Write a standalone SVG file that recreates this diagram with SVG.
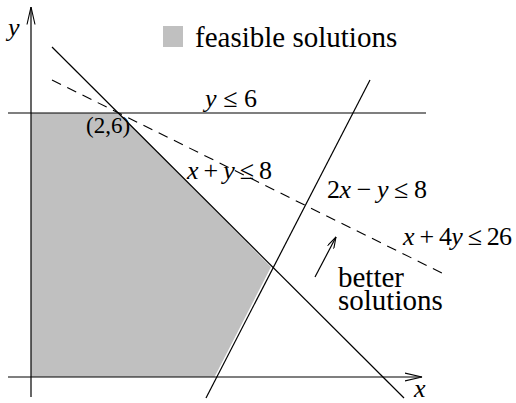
<svg xmlns="http://www.w3.org/2000/svg" width="516" height="403" viewBox="0 0 516 403">
<defs>
<style>
.ln{fill:none;stroke:#000;stroke-width:1.2}
.dash{fill:none;stroke:#000;stroke-width:1.1;stroke-dasharray:10,7}
.it{font-style:italic}
.feas{fill:#c0c0c0}
</style>
<marker id="axhead" viewBox="0 0 18 10" refX="17.5" refY="5" markerWidth="18" markerHeight="10" markerUnits="userSpaceOnUse" orient="auto">
<path d="M0,1 L17.5,5 L0,9" fill="none" stroke="#000" stroke-width="1.1"/>
</marker>
<marker id="smhead" viewBox="0 0 12 8" refX="11.5" refY="4" markerWidth="12" markerHeight="8" markerUnits="userSpaceOnUse" orient="auto">
<path d="M0,0.5 L11.5,4 L0,7.5" fill="none" stroke="#000" stroke-width="1.1"/>
</marker>
</defs>
<rect width="516" height="403" fill="#fff"/>
<g id="feasible-region">
<polygon class="feas" points="31,113 119,113 271,267 214.5,377 31,377"/>
</g>
<g id="connectors">
<line id="x-axis" class="ln" x1="8" y1="377" x2="422" y2="377" marker-end="url(#axhead)"/>
<line id="y-axis" class="ln" x1="31" y1="397" x2="31" y2="7" marker-end="url(#axhead)"/>
<line id="c-y6" class="ln" x1="8" y1="113" x2="426" y2="113"/>
<line id="c-xy8" class="ln" x1="52" y1="47" x2="404" y2="398"/>
<line id="c-2xy8" class="ln" x1="370" y1="80" x2="206" y2="398"/>
<line id="c-obj" class="dash" x1="52" y1="80" x2="448" y2="276"/>
<line id="better-arrow" class="ln" x1="315" y1="277" x2="336" y2="237" marker-end="url(#smhead)"/>
</g>
<g id="legend">
<rect x="163" y="26" width="20" height="21" class="feas"/>
<text font-family="Liberation Serif" x="195" y="47" font-size="29">feasible solutions</text>
</g>
<g id="labels">
<text font-family="Liberation Serif" font-style="italic" x="8" y="36" font-size="26">y</text>
<text font-family="Liberation Serif" font-style="italic" x="414" y="397" font-size="26">x</text>
<text font-family="Liberation Serif" x="205" y="107" font-size="26" textLength="52" lengthAdjust="spacing"><tspan font-style="italic">y</tspan> ≤ 6</text>
<text font-family="Liberation Serif" x="86" y="133" font-size="23">(2,6)</text>
<text font-family="Liberation Serif" x="187" y="179" font-size="26" textLength="85" lengthAdjust="spacing"><tspan font-style="italic">x</tspan> + <tspan font-style="italic">y</tspan> ≤ 8</text>
<text font-family="Liberation Serif" x="327" y="198" font-size="26" textLength="100" lengthAdjust="spacing">2<tspan font-style="italic">x</tspan> − <tspan font-style="italic">y</tspan> ≤ 8</text>
<text font-family="Liberation Serif" x="403" y="245" font-size="26" textLength="109" lengthAdjust="spacing"><tspan font-style="italic">x</tspan> + 4<tspan font-style="italic">y</tspan> ≤ 26</text>
<text font-family="Liberation Serif" x="338" y="287" font-size="29">better</text>
<text font-family="Liberation Serif" x="338" y="310" font-size="29">solutions</text>
</g>
</svg>
